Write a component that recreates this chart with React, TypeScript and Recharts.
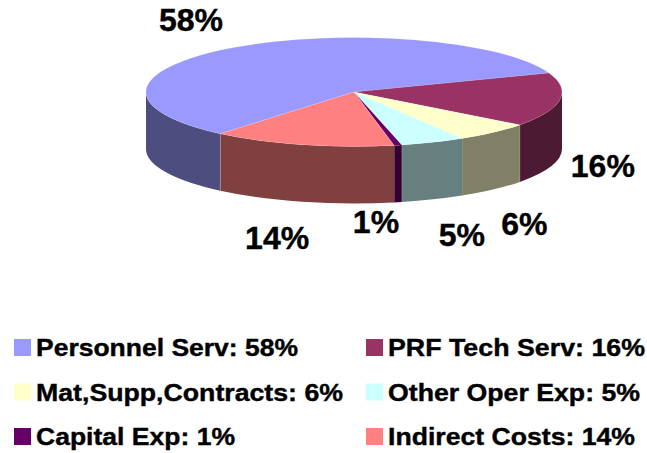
import React from "react";
import { PieChart, Pie, Legend } from "recharts";

const categories = ["Personnel Serv", "PRF Tech Serv", "Mat,Supp,Contracts", "Other Oper Exp", "Capital Exp", "Indirect Costs"];
const shares = [58.2, 16, 6, 5, 0.6, 14.2];
const colors = ["#9999FF", "#993366", "#FFFFCC", "#CCFFFF", "#660066", "#FF8080"];
const rows = categories.map((name, i) => ({ name, value: shares[i], fill: colors[i] }));

const W = 647, H = 453, CX = 354, CY = 92, RX = 208, RY = 54.5, DEPTH = 57;
const FONT = "'Liberation Sans', Arial, sans-serif";
const labelNudge = [[-43, -16], [43, 77], [31, 103], [29, 104], [-22, 88], [-25, 104]];
const legendWidths = [262, 257, 307, 252, 199, 247];

const rad = (a: number) => (a * Math.PI) / 180;
const pt = (cx: number, cy: number, rx: number, a: number) => {
  const ry = (rx * RY) / RX;
  return [cx + rx * Math.cos(rad(a)), cy - ry * Math.sin(rad(a))];
};
const darken = (hex: string) => {
  const n = parseInt(hex.slice(1), 16);
  const c = (s: number) => Math.round(((n >> s) & 255) * 0.5);
  return `rgb(${c(16)},${c(8)},${c(0)})`;
};

function Slice(props: any) {
  const { cx, cy, outerRadius: r, startAngle, endAngle, fill } = props;
  const ry = (r * RY) / RX;
  const hi = Math.max(startAngle, endAngle), lo = Math.min(startAngle, endAngle);
  const [sx, sy] = pt(cx, cy, r, hi);
  const [ex, ey] = pt(cx, cy, r, lo);
  const large = hi - lo > 180 ? 1 : 0;
  const walls: React.ReactNode[] = [];
  [[-180, 0], [180, 360]].forEach(([w0, w1], k) => {
    const l = Math.max(lo, w0), h = Math.min(hi, w1);
    if (h <= l) return;
    const [ax, ay] = pt(cx, cy, r, h);
    const [bx, by] = pt(cx, cy, r, l);
    walls.push(
      <path key={k} fill={darken(fill)} stroke="none"
        d={`M${ax},${ay}A${r},${ry} 0 0 1 ${bx},${by}L${bx},${by + DEPTH}A${r},${ry} 0 0 0 ${ax},${ay + DEPTH}Z`} />
    );
    if (l > w0 && l === lo) {
      walls.push(<line key={`s${k}`} x1={bx} y1={by} x2={bx} y2={by + DEPTH} stroke="#ffffff" strokeOpacity={0.3} strokeWidth={0.7} />);
    }
  });
  return (
    <g>
      {walls}
      <path fill={fill} stroke="#ffffff" strokeOpacity={0.25} strokeWidth={0.5}
        d={`M${cx},${cy}L${sx},${sy}A${r},${ry} 0 ${large} 1 ${ex},${ey}Z`} />
    </g>
  );
}

function PctLabel(props: any) {
  const { cx, cy, outerRadius: r, midAngle, index, value } = props;
  const [x, y] = pt(cx, cy, r, midAngle);
  const [dx, dy] = labelNudge[index];
  return (
    <text x={x + dx} y={y + dy} textAnchor="middle" fontFamily={FONT} fontWeight={700} fontSize={32} fill="#000"
      stroke="#000" strokeWidth={0.4}>
      {Math.round(value)}%
    </text>
  );
}

function LegendBox() {
  return (
    <svg width={W} height={H} style={{ display: "block" }}>
      {rows.map((d, i) => {
        const col = i % 2, row = Math.floor(i / 2);
        const x = col ? 366 : 14, y = 339 + row * 44.5;
        return (
          <g key={d.name}>
            <rect x={x} y={y} width={17} height={17} fill={d.fill} />
            <text x={x + 22} y={y + 17} fontFamily={FONT} fontWeight={700} fontSize={24.5} fill="#000"
              stroke="#000" strokeWidth={0.4} textLength={legendWidths[i]} lengthAdjust="spacingAndGlyphs">
              {`${d.name}: ${Math.round(d.value)}%`}
            </text>
          </g>
        );
      })}
    </svg>
  );
}

export default function App() {
  return (
    <div style={{ position: "absolute", left: 0, top: 0, width: W, height: H, background: "#fff" }}>
      <PieChart width={W} height={H} margin={{ top: 0, right: 0, bottom: 0, left: 0 }}>
        <Pie data={rows} dataKey="value" nameKey="name" cx={CX} cy={CY} outerRadius={RX} innerRadius={0}
          startAngle={230} endAngle={-130} paddingAngle={0} stroke="none"
          isAnimationActive={false} shape={Slice} label={PctLabel} labelLine={false} />
        <Legend content={LegendBox} wrapperStyle={{ left: 0, top: 0, width: W, height: H, pointerEvents: "none" }} />
      </PieChart>
    </div>
  );
}
